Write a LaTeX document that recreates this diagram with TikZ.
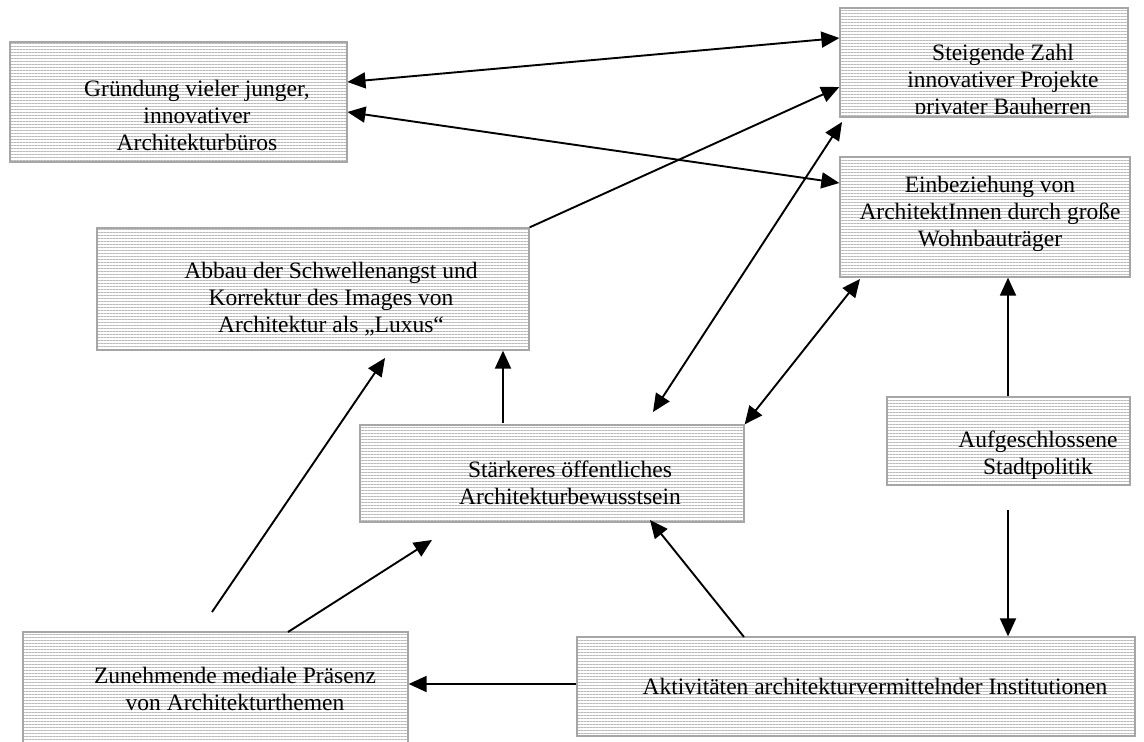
\documentclass[tikz,border=0pt]{standalone}
\usepackage{fontspec}
\setmainfont{Liberation Serif}
\usetikzlibrary{arrows.meta,patterns.meta,calc}
\begin{document}
\begin{tikzpicture}[x=1pt,y=-1pt,
 box/.style={draw=gray!70, line width=1.3pt, pattern={Lines[angle=0,distance=3pt,line width=0.9pt]}, pattern color=gray!55, inner sep=0pt},
 txt/.style={align=center, font=\fontsize{23.5}{27}\selectfont, inner sep=0pt},
 arr/.style={line width=1.9pt, -{Triangle[length=18pt,width=16pt]}},
 dbl/.style={line width=1.9pt, {Triangle[length=18pt,width=16pt]}-{Triangle[length=18pt,width=16pt]}}]
\useasboundingbox (0,0) rectangle (1144,742);
% boxes
\node[box, minimum width=337pt, minimum height=120pt] (b1) at (178.5,102) {};
\node[box, minimum width=288pt, minimum height=109pt] (b2) at (984,62.5) {};
\node[box, minimum width=290pt, minimum height=120pt] (b3) at (985,217) {};
\node[box, minimum width=432pt, minimum height=122pt] (b4) at (313,289) {};
\node[box, minimum width=384pt, minimum height=97pt] (b5) at (552,473.5) {};
\node[box, minimum width=243pt, minimum height=88pt] (b6) at (1008.5,441) {};
\node[box, minimum width=558pt, minimum height=99pt] (b7) at (856,686.5) {};
\node[box, minimum width=385pt, minimum height=120pt] (b8) at (215.5,692) {};
% texts
\node[txt] (t1) at (197,115) {Gründung vieler junger,\\innovativer\\Architekturbüros};
\begin{scope}
\clip (841,9) rectangle (1127,113);
\node[txt] (t2) at (1003,82) {Steigende Zahl\\innovativer Projekte\\privater Bauherren};
\end{scope}
\node[txt] (t3) at (990,214) {Einbeziehung von\\ArchitektInnen durch große\\Wohnbauträger};
\node[txt] (t4) at (331,299) {Abbau der Schwellenangst und\\Korrektur des Images von\\Architektur als „Luxus“};
\node[txt] (t5) at (570,483) {Stärkeres öffentliches\\Architekturbewusstsein};
\node[txt] (t6) at (1038,455) {Aufgeschlossene\\Stadtpolitik};
\node[txt] (t7) at (875,686) {Aktivitäten architekturvermittelnder Institutionen};
\node[txt] (t8) at (235,689) {Zunehmende mediale Präsenz\\von Architekturthemen};
% free ends
\coordinate (h0) at (1008,510);
\coordinate (k0) at (212,612);
\coordinate (l1) at (432,540);
\coordinate (i1) at (650,520);
% connectors
\draw[dbl] (b1.east |- 0,82) -- (b2.west |- 0,38);
\draw[dbl] (b1.east |- 0,112) -- (b3.west |- 0,183);
\draw[arr] (b4.north east) -- (b2.west |- 0,87);
\draw[dbl] (653,412) -- (842,122);
\draw[dbl] (b5.north east) -- (860,279);
\draw[arr] (503,423) -- (b4.south -| 503,0);
\draw[arr] (b6.north -| 1008,0) -- (b3.south -| 1008,0);
\draw[arr] (h0) -- (b7.north -| 1008,0);
\draw[arr] (744,637) -- (i1);
\draw[arr] (b7.west |- 0,684) -- (b8.east |- 0,684);
\draw[arr] (k0) -- (385,358);
\draw[arr] (288,632) -- (l1);
\end{tikzpicture}
\end{document}
